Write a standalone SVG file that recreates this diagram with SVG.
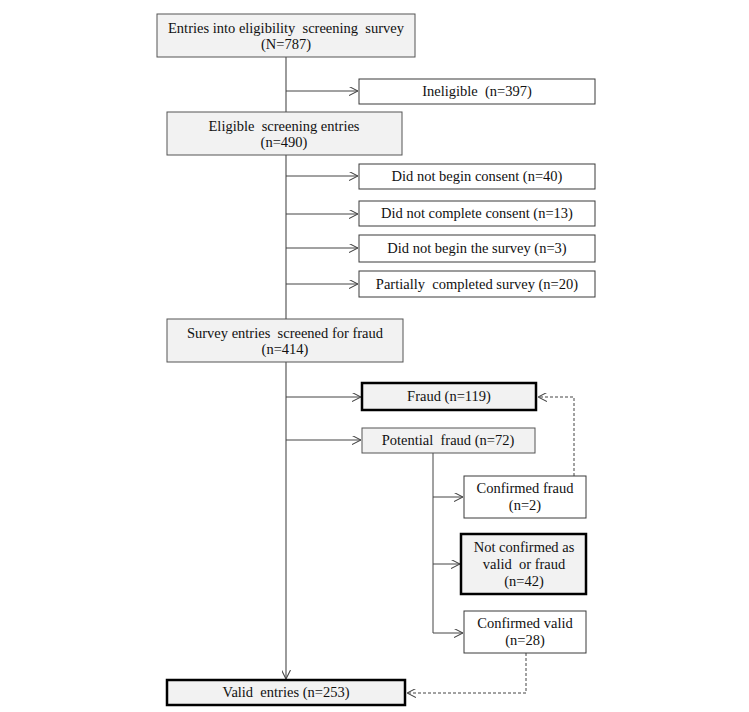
<svg xmlns="http://www.w3.org/2000/svg" width="749" height="712" viewBox="0 0 749 712" xml:space="preserve">
<defs>
<style>
.box{fill:#ffffff;stroke:#3a3a3a;stroke-width:1}
.gbox{fill:#f2f2f2;stroke:#555555;stroke-width:1}
.tbox{fill:#f2f2f2;stroke:#000000;stroke-width:2.5}
text{font-family:"Liberation Serif","Times New Roman",serif;font-size:14.5px;fill:#111111;text-anchor:middle;white-space:pre}
.ln{fill:none;stroke:#444444;stroke-width:1}
.main{fill:none;stroke:#666666;stroke-width:1.3}
.dash{fill:none;stroke:#444444;stroke-width:1;stroke-dasharray:3,2}
</style>
<marker id="arr" viewBox="0 0 10 10" refX="10" refY="5" markerWidth="9" markerHeight="9" markerUnits="userSpaceOnUse" orient="auto">
<path d="M0,0 L10,5 L0,10" fill="none" stroke="#444444" stroke-width="1.2"/>
</marker>
</defs>
<rect width="749" height="712" fill="#ffffff"/>
<g id="connectors">
<line class="main" x1="286" y1="57" x2="286" y2="112"/>
<line class="main" x1="286" y1="155" x2="286" y2="319"/>
<line class="main" x1="286" y1="362" x2="286" y2="679" marker-end="url(#arr)"/>
<line class="ln" x1="286" y1="91" x2="358" y2="91" marker-end="url(#arr)"/>
<line class="ln" x1="286" y1="176" x2="358" y2="176" marker-end="url(#arr)"/>
<line class="ln" x1="286" y1="214" x2="358" y2="214" marker-end="url(#arr)"/>
<line class="ln" x1="286" y1="248" x2="358" y2="248" marker-end="url(#arr)"/>
<line class="ln" x1="286" y1="284" x2="358" y2="284" marker-end="url(#arr)"/>
<line class="ln" x1="286" y1="397" x2="361" y2="397" marker-end="url(#arr)"/>
<line class="ln" x1="286" y1="440" x2="361" y2="440" marker-end="url(#arr)"/>
<line class="ln" x1="433" y1="453" x2="433" y2="633"/>
<line class="ln" x1="433" y1="497" x2="463" y2="497" marker-end="url(#arr)"/>
<line class="ln" x1="433" y1="564" x2="460" y2="564" marker-end="url(#arr)"/>
<line class="ln" x1="433" y1="633" x2="463" y2="633" marker-end="url(#arr)"/>
<polyline class="dash" points="574,476 574,397 538,397" marker-end="url(#arr)"/>
<polyline class="dash" points="526,653 526,693 407,693" marker-end="url(#arr)"/>
</g>
<g id="n1"><rect class="gbox" x="157" y="14" width="258" height="43"/><text x="286" y="33">Entries into eligibility  screening  survey</text><text x="286" y="49">(N=787)</text></g>
<g id="n2"><rect class="box" x="359" y="79" width="236" height="25"/><text x="477" y="96">Ineligible  (n=397)</text></g>
<g id="n3"><rect class="gbox" x="167" y="112" width="235" height="43"/><text x="284" y="131">Eligible  screening entries</text><text x="284" y="147">(n=490)</text></g>
<g id="n4"><rect class="box" x="359" y="164" width="236" height="25"/><text x="477" y="181">Did not begin consent (n=40)</text></g>
<g id="n5"><rect class="box" x="359" y="201" width="236" height="25"/><text x="477" y="218">Did not complete consent (n=13)</text></g>
<g id="n6"><rect class="box" x="359" y="235" width="236" height="27"/><text x="477" y="253">Did not begin the survey (n=3)</text></g>
<g id="n7"><rect class="box" x="359" y="271" width="236" height="26"/><text x="477" y="289">Partially  completed survey (n=20)</text></g>
<g id="n8"><rect class="gbox" x="167" y="319" width="236" height="43"/><text x="285" y="338">Survey entries  screened for fraud</text><text x="285" y="354">(n=414)</text></g>
<g id="n9"><rect class="tbox" x="362" y="383" width="174" height="27"/><text x="449" y="401">Fraud (n=119)</text></g>
<g id="n10"><rect class="gbox" x="362" y="428" width="173" height="25"/><text x="448" y="445">Potential  fraud (n=72)</text></g>
<g id="n11"><rect class="box" x="464" y="476" width="122" height="42"/><text x="525" y="493">Confirmed fraud</text><text x="525" y="510">(n=2)</text></g>
<g id="n12"><rect class="tbox" x="461" y="534" width="125" height="60"/><text x="524" y="552">Not confirmed as</text><text x="524" y="569">valid  or fraud</text><text x="524" y="586">(n=42)</text></g>
<g id="n13"><rect class="box" x="464" y="611" width="122" height="42"/><text x="525" y="628">Confirmed valid</text><text x="525" y="645">(n=28)</text></g>
<g id="n14"><rect class="tbox" x="167" y="680" width="238" height="25"/><text x="286" y="697">Valid  entries (n=253)</text></g>
</svg>
